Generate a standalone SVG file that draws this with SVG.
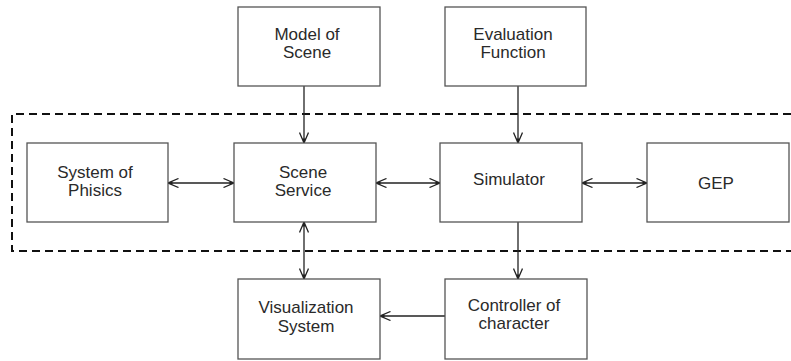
<svg xmlns="http://www.w3.org/2000/svg" width="791" height="361" viewBox="0 0 791 361">
<style>
.box{fill:#fff;stroke:#555;stroke-width:1.3}
.t{font-family:"Liberation Sans",Arial,sans-serif;font-size:17px;fill:#2a2a2a;text-anchor:middle}
.c{stroke:#222;stroke-width:1.3;fill:none}
.dash{stroke:#111;stroke-width:2;fill:none;stroke-dasharray:8 5}
</style>
<defs>
<marker id="ah" viewBox="0 0 12 10" refX="11.5" refY="5" markerWidth="12" markerHeight="10" markerUnits="userSpaceOnUse" orient="auto-start-reverse">
<path d="M1,0.5 L11.5,5 L1,9.5" fill="none" stroke="#222" stroke-width="1.3"/>
<path d="M7,3.2 L11.5,5 L7,6.8 Z" fill="#222"/>
</marker>
</defs>
<rect width="791" height="361" fill="#fff"/>
<path class="dash" d="M791,114 H12 V251 H791"/>
<g id="connectors">
<line class="c" x1="304" y1="86" x2="304" y2="143" marker-end="url(#ah)"/>
<line class="c" x1="518" y1="86" x2="518" y2="143" marker-end="url(#ah)"/>
<line class="c" x1="168" y1="183" x2="234" y2="183" marker-start="url(#ah)" marker-end="url(#ah)"/>
<line class="c" x1="376" y1="183" x2="440" y2="183" marker-start="url(#ah)" marker-end="url(#ah)"/>
<line class="c" x1="582" y1="183" x2="647" y2="183" marker-start="url(#ah)" marker-end="url(#ah)"/>
<line class="c" x1="304" y1="222" x2="304" y2="279" marker-start="url(#ah)" marker-end="url(#ah)"/>
<line class="c" x1="518" y1="222" x2="518" y2="279" marker-end="url(#ah)"/>
<line class="c" x1="445" y1="316" x2="380" y2="316" marker-end="url(#ah)"/>
</g>
<g id="model">
<rect class="box" x="238" y="7" width="142" height="79"/>
<text class="t" x="307" y="40">Model of</text>
<text class="t" x="307" y="58">Scene</text>
</g>
<g id="evaluation">
<rect class="box" x="445" y="7" width="141" height="79"/>
<text class="t" x="513" y="40">Evaluation</text>
<text class="t" x="513" y="58">Function</text>
</g>
<g id="physics">
<rect class="box" x="27" y="143" width="141" height="79"/>
<text class="t" x="95" y="178">System of</text>
<text class="t" x="95" y="196">Phisics</text>
</g>
<g id="scene">
<rect class="box" x="234" y="143" width="142" height="79"/>
<text class="t" x="303" y="178">Scene</text>
<text class="t" x="303" y="196">Service</text>
</g>
<g id="simulator">
<rect class="box" x="440" y="143" width="142" height="79"/>
<text class="t" x="509" y="185">Simulator</text>
</g>
<g id="gep">
<rect class="box" x="647" y="143" width="142" height="79"/>
<text class="t" x="716" y="189">GEP</text>
</g>
<g id="visualization">
<rect class="box" x="238" y="279" width="142" height="80"/>
<text class="t" x="306" y="313">Visualization</text>
<text class="t" x="306" y="332">System</text>
</g>
<g id="controller">
<rect class="box" x="445" y="279" width="142" height="80"/>
<text class="t" x="514" y="311">Controller of</text>
<text class="t" x="514" y="329">character</text>
</g>
</svg>
